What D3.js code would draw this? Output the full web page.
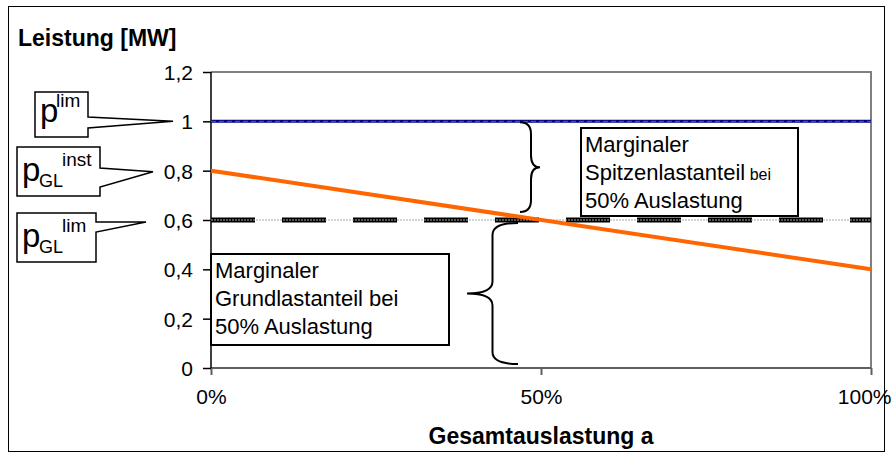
<html>
<head>
<meta charset="utf-8">
<style>
  body { margin: 0; background: #fff; }
  svg { font-family: Arial, "Liberation Sans", sans-serif; }
  .axis text { font-size: 21px; fill: #000; }
  .label { font-size: 22px; fill: #000; }
  .title { font-size: 23px; font-weight: bold; fill: #000; }
</style>
</head>
<body>
<svg class="chart" width="893" height="459"></svg>
<script src="https://cdn.jsdelivr.net/npm/d3@7"></script>
<script>
// values
var xTicks = [0, 0.5, 1];
var xTickLabels = ["0%", "50%", "100%"];
var yTicks = [0, 0.2, 0.4, 0.6, 0.8, 1, 1.2];
var yTickLabels = ["0", "0,2", "0,4", "0,6", "0,8", "1", "1,2"];
var auslastung = [0, 1];
var pLim = [1, 1];          // p^lim
var pGLlim = [0.6, 0.6];    // p_GL^lim
var pGLinst = [0.8, 0.4];   // p_GL^inst

var plotLeft = 211, plotRight = 871, plotTop = 72, plotBottom = 368;

var svg = d3.select('.chart');

// outer frame
svg.append('rect')
    .attr('x', 8.5).attr('y', 6.5)
    .attr('width', 876).attr('height', 445)
    .attr('fill', 'none').attr('stroke', '#000').attr('stroke-width', 1);

var x = d3.scaleLinear().domain([0, 1]).range([plotLeft, plotRight]);
var y = d3.scaleLinear().domain([0, 1.2]).range([plotBottom, plotTop]);

// plot frame (top and right in grey)
svg.append('path')
    .attr('d', 'M' + x(0) + ',' + y(1.2) + 'H' + x(1) + 'V' + y(0))
    .attr('fill', 'none').attr('stroke', '#808080').attr('stroke-width', 2);

// x axis
var xAxis = svg.append('g').attr('class', 'axis')
    .attr('transform', 'translate(0,' + y(0) + ')')
    .call(d3.axisBottom(x).tickValues(xTicks)
        .tickFormat(function(d, i) { return xTickLabels[i]; })
        .tickSize(7).tickPadding(14));
xAxis.selectAll('path, line').attr('stroke', '#606060').attr('stroke-width', 2);
xAxis.select('.domain').attr('d', 'M' + x(0) + ',0H' + x(1));
// last label sits against the frame edge
xAxis.selectAll('.tick text').filter(function(d) { return d === 1; })
    .attr('text-anchor', 'end').attr('x', 20);

// y axis
var yAxis = svg.append('g').attr('class', 'axis')
    .attr('transform', 'translate(' + x(0) + ',0)')
    .call(d3.axisLeft(y).tickValues(yTicks)
        .tickFormat(function(d, i) { return yTickLabels[i]; })
        .tickSize(8).tickPadding(10));
yAxis.selectAll('path, line').attr('stroke', '#000').attr('stroke-width', 1.5);
yAxis.select('.domain').attr('d', 'M0,' + y(0) + 'V' + y(1.2));
yAxis.selectAll('text').attr('dy', '0.36em');

var line = d3.line()
    .x(function(d) { return x(d[0]); })
    .y(function(d) { return y(d[1]); });
function pts(vals) { return auslastung.map(function(a, i) { return [a, vals[i]]; }); }

// p_GL^lim : black long dashes with grey dotted centre
svg.append('path').attr('d', line(pts(pGLlim)))
    .attr('fill', 'none').attr('stroke', '#000').attr('stroke-width', 5)
    .attr('stroke-dasharray', '44,27');
svg.append('path').attr('d', line(pts(pGLlim)))
    .attr('fill', 'none').attr('stroke', '#aaaaaa').attr('stroke-width', 1.2)
    .attr('stroke-dasharray', '2,1');

// p^lim : navy line
svg.append('path').attr('d', line(pts(pLim)))
    .attr('fill', 'none').attr('stroke', '#000080').attr('stroke-width', 3);
svg.append('path').attr('d', line(pts(pLim)))
    .attr('fill', 'none').attr('stroke', '#5a5ad0').attr('stroke-width', 1)
    .attr('stroke-dasharray', '5,3');

// p_GL^inst : orange line
svg.append('path').attr('d', line(pts(pGLinst)))
    .attr('fill', 'none').attr('stroke', '#ff6600').attr('stroke-width', 4);

// braces
function brace(x0, y0, y1, w, mid) {
    var r = 12, xm = x0 + w * mid, ym = (y0 + y1) / 2;
    return 'M' + x0 + ',' + y0 +
        'Q' + xm + ',' + y0 + ' ' + xm + ',' + (y0 + r) +
        'L' + xm + ',' + (ym - r) +
        'Q' + xm + ',' + ym + ' ' + (x0 + w) + ',' + ym +
        'Q' + xm + ',' + ym + ' ' + xm + ',' + (ym + r) +
        'L' + xm + ',' + (y1 - r) +
        'Q' + xm + ',' + y1 + ' ' + x0 + ',' + y1;
}
svg.append('path')
    .attr('d', brace(x(0.5) - 21, y(1) + 1, y(0.6) - 8, 20, 0.55))
    .attr('fill', 'none').attr('stroke', '#000').attr('stroke-width', 2);
svg.append('path')
    .attr('d', brace(x(0.5) - 23, y(0.6) + 3, y(0) - 4, -51, 0.5))
    .attr('fill', 'none').attr('stroke', '#000').attr('stroke-width', 2);

// text boxes inside plot
function textBox(bx, by, bw, bh, lines) {
    svg.append('rect').attr('x', bx).attr('y', by).attr('width', bw).attr('height', bh)
        .attr('fill', '#fff').attr('stroke', '#000').attr('stroke-width', 2);
    lines.forEach(function(l, i) {
        var t = svg.append('text').attr('class', 'label')
            .attr('x', bx + 4).attr('y', by + 24 + i * 28);
        l.forEach(function(part) {
            t.append('tspan').text(part[0]).style('font-size', part[1] + 'px');
        });
    });
}
textBox(581, 128, 217, 88, [
    [['Marginaler', 22]],
    [['Spitzenlastanteil', 22], [' bei', 16]],
    [['50% Auslastung', 22]]
]);
textBox(211, 254, 238, 91, [
    [['Marginaler', 22]],
    [['Grundlastanteil bei', 22]],
    [['50% Auslastung', 22]]
]);

// callouts on the left
function callout(bx, by, bw, bh, py0, py1, tx, ty, sub, sup) {
    svg.append('path')
        .attr('d', 'M' + bx + ',' + by + 'H' + (bx + bw) + 'V' + py0 +
            'L' + tx + ',' + ty + 'L' + (bx + bw) + ',' + py1 +
            'V' + (by + bh) + 'H' + bx + 'Z')
        .attr('fill', '#fff').attr('stroke', '#000').attr('stroke-width', 1.5);
    var base = by + bh - 15;
    var t = svg.append('text').attr('class', 'label').attr('x', bx + 5).attr('y', base);
    t.append('tspan').text('p').style('font-size', '33px');
    var xs = bx + 5 + 18;
    if (sub) {
        svg.append('text').attr('class', 'label').attr('x', xs - 1).attr('y', base + 6)
            .style('font-size', '18px').text(sub);
        xs += 24;
    }
    svg.append('text').attr('class', 'label').attr('x', xs - 2).attr('y', base - 15)
        .style('font-size', '19px').text(sup);
}
callout(35, 92, 53, 45, 117, 128, 173, y(1), null, 'lim');
callout(17, 147, 83, 49, 168, 187, 153, y(0.8) + 1, 'GL', 'inst');
callout(17, 213, 79, 49, 222, 232, 146, y(0.6) + 2, 'GL', 'lim');

// axis titles
svg.append('text').attr('class', 'title').attr('x', 18).attr('y', 46).text('Leistung [MW]');
svg.append('text').attr('class', 'title').attr('x', (plotLeft + plotRight) / 2).attr('y', 444)
    .attr('text-anchor', 'middle').text('Gesamtauslastung a');
</script>
</body>
</html>
